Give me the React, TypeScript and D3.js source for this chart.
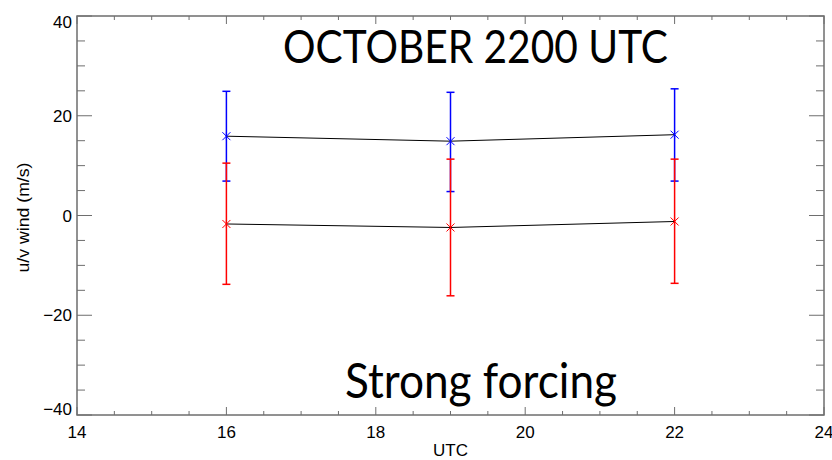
import React from "react";
import * as d3 from "d3";

const hours = [16, 19, 22];
const uMean = [15.9, 14.9, 16.2];
const uLow = [6.9, 4.8, 6.9];
const uHigh = [24.9, 24.7, 25.4];
const vMean = [-1.7, -2.4, -1.2];
const vLow = [-13.8, -16.1, -13.6];
const vHigh = [10.5, 11.3, 11.3];

const xMajor = [14, 16, 18, 20, 22, 24];
const yMajor = [-40, -20, 0, 20, 40];
const title = "OCTOBER 2200 UTC";
const subtitle = "Strong forcing";
const xTitle = "UTC";
const yTitle = "u/v wind (m/s)";

const W = 832, H = 460;
const L = 77, R = 824, T = 16, B = 415;

export default function App() {
  const x = d3.scaleLinear().domain([14, 24]).range([L, R]);
  const y = d3.scaleLinear().domain([-40, 40]).range([B, T]);
  const xMinor = d3.range(14, 24.001, 0.5).filter((v) => !xMajor.includes(v));
  const yMinor = d3.range(-40, 40.001, 5).filter((v) => !yMajor.includes(v));
  const axisColor = "#6e6e6e";
  const font = "'Liberation Sans', Arial, sans-serif";
  const line = d3.line<number>().x((_, i) => x(hours[i])).y((d) => y(d));

  const series = [
    { mean: uMean, lo: uLow, hi: uHigh, color: "#0000ff" },
    { mean: vMean, lo: vLow, hi: vHigh, color: "#ff0000" },
  ];
  const m = 4;
  const cap = 4;

  return (
    <svg width={W} height={H} style={{ position: "absolute", left: 0, top: 0, background: "#fff" }}>
      {series.map((s, k) => (
        <path key={"l" + k} d={line(s.mean) || ""} fill="none" stroke="#000" strokeWidth={1} />
      ))}
      {series.map((s, k) => (
        <g key={"s" + k} stroke={s.color} strokeWidth={1.5} fill="none">
          {hours.map((h, i) => {
            const cx = x(h);
            const cy = y(s.mean[i]);
            return (
              <g key={i}>
                <line x1={cx} x2={cx} y1={y(s.lo[i])} y2={y(s.hi[i])} />
                <line x1={cx - cap} x2={cx + cap} y1={y(s.lo[i])} y2={y(s.lo[i])} />
                <line x1={cx - cap} x2={cx + cap} y1={y(s.hi[i])} y2={y(s.hi[i])} />
                <line x1={cx - m} x2={cx + m} y1={cy - m} y2={cy + m} strokeWidth={1} />
                <line x1={cx - m} x2={cx + m} y1={cy + m} y2={cy - m} strokeWidth={1} />
                <line x1={cx} x2={cx} y1={cy - m} y2={cy + m} strokeWidth={1} />
              </g>
            );
          })}
        </g>
      ))}
      <rect x={L} y={T} width={R - L} height={B - T} fill="none" stroke={axisColor} strokeWidth={1.5} />
      <g stroke={axisColor} strokeWidth={1}>
        {xMajor.map((v) => (
          <g key={"xm" + v}>
            <line x1={x(v)} x2={x(v)} y1={B} y2={B - 8} />
            <line x1={x(v)} x2={x(v)} y1={T} y2={T + 8} />
          </g>
        ))}
        {xMinor.map((v) => (
          <g key={"xn" + v}>
            <line x1={x(v)} x2={x(v)} y1={B} y2={B - 4} />
            <line x1={x(v)} x2={x(v)} y1={T} y2={T + 4} />
          </g>
        ))}
        {yMajor.map((v) => (
          <g key={"ym" + v}>
            <line x1={L} x2={L + 15} y1={y(v)} y2={y(v)} />
            <line x1={R} x2={R - 15} y1={y(v)} y2={y(v)} />
          </g>
        ))}
        {yMinor.map((v) => (
          <g key={"yn" + v}>
            <line x1={L} x2={L + 8} y1={y(v)} y2={y(v)} />
            <line x1={R} x2={R - 8} y1={y(v)} y2={y(v)} />
          </g>
        ))}
      </g>
      <g fontFamily={font} fontSize={17} fill="#000">
        {xMajor.map((v) => (
          <text key={"xl" + v} x={x(v)} y={438} textAnchor="middle">
            {v}
          </text>
        ))}
        {yMajor.map((v) => {
          let cy = y(v) + 6;
          if (cy - 12 < T) cy = T + 12;
          if (cy > B) cy = B;
          return (
            <text key={"yl" + v} x={72} y={cy} textAnchor="end">
              {v < 0 ? "\u2212" + Math.abs(v) : v}
            </text>
          );
        })}
        <text x={(L + R) / 2} y={456} textAnchor="middle">
          {xTitle}
        </text>
        <text transform={`translate(29,${(T + B) / 2 + 2}) rotate(-90)`} textAnchor="middle" textLength={110} lengthAdjust="spacingAndGlyphs">
          {yTitle}
        </text>
      </g>
      <text x={283} y={63} fontFamily="Lato, 'Open Sans', sans-serif" fontSize={46} textLength={385} lengthAdjust="spacingAndGlyphs" fill="#000">
        {title}
      </text>
      <text x={345} y={398} fontFamily="Lato, 'Open Sans', sans-serif" fontSize={48} textLength={272} lengthAdjust="spacingAndGlyphs" fill="#000">
        {subtitle}
      </text>
    </svg>
  );
}
